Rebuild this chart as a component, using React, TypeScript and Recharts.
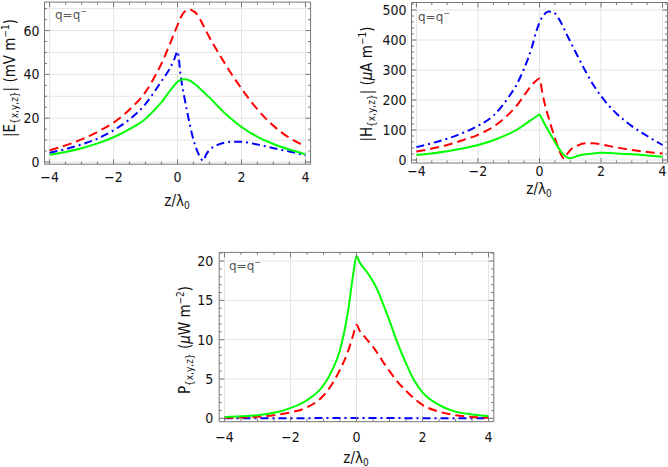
import { LineChart, Line, XAxis, YAxis, ReferenceLine } from "recharts";

// z / lambda0 sample positions shared by all three panels
const Z = [-4, -3.5, -3, -2.5, -2, -1.5, -1, -0.75, -0.5, -0.25, -0.1, 0, 0.1, 0.2, 0.3, 0.4, 0.5, 0.6, 0.7, 0.8, 0.9, 1, 1.25, 1.5, 1.75, 2, 2.5, 3, 3.5, 4];

// |E| (mV/m)
const E_RED = [5.3, 7.6, 10.3, 13.8, 18, 24, 32, 38, 45, 53.5, 59, 62.5, 66, 68.3, 69.3, 69.5, 68.8, 67.6, 65.3, 62.5, 59.6, 56.8, 50.5, 44.5, 38.8, 33.5, 24, 16.5, 11, 7.2];
const E_BLUE = [4.2, 5.9, 8, 10.7, 14.5, 19.5, 26.5, 31.5, 37, 42.5, 47, 50.5, 39, 30.5, 23, 16, 10, 5.6, 2.4, 0.6, 3.6, 5.5, 7.8, 8.9, 9.3, 9.2, 8, 6.3, 4.8, 3];
const E_GREEN = [3.3, 4.6, 6.3, 8.5, 11.3, 15, 19.7, 23.3, 27.3, 32.3, 35, 36.6, 37.5, 37.8, 37.6, 37, 36, 34.9, 33.5, 32.2, 30.7, 29.4, 25.6, 22, 18.8, 16, 11.5, 8.2, 5.7, 3.6];

// |H| (uA/m)
const H_RED = [28, 38, 50, 66, 84, 111, 153, 180, 215, 250, 265, 272, 220, 175, 140, 105, 73, 44, 18, 4, 20, 33, 49, 56, 56, 52, 42, 33, 27, 22];
const H_BLUE = [43, 56, 71, 90, 114, 148, 210, 250, 305, 375, 430, 458, 478, 490, 495, 494, 489, 475, 458, 437, 415, 395, 344, 295, 250, 213, 155, 113, 80, 50];
const H_GREEN = [17, 22, 29, 38, 50, 66, 87, 100, 117, 135, 145, 151, 133, 114, 96, 78, 60, 43, 28, 16, 8.5, 6, 14, 19, 22, 24, 22, 19, 15, 11];

// P (uW/m^2)
const P_RED = [0.05, 0.1, 0.2, 0.4, 0.75, 1.4, 2.9, 4.3, 6.2, 8.6, 10.6, 11.9, 11.1, 10.6, 10.1, 9.6, 9.1, 8.5, 7.9, 7.2, 6.6, 6, 4.6, 3.5, 2.5, 1.7, 0.85, 0.4, 0.18, 0.08];
const P_BLUE = [0.02, 0.02, 0.02, 0.02, 0.02, 0.02, 0.03, 0.03, 0.03, 0.03, 0.03, 0.03, 0.03, 0.03, 0.03, 0.03, 0.03, 0.03, 0.03, 0.03, 0.03, 0.03, 0.03, 0.02, 0.02, 0.02, 0.02, 0.02, 0.02, 0.02];
const P_GREEN = [0.15, 0.25, 0.4, 0.7, 1.3, 2.3, 4.2, 6, 8.7, 13.8, 18.3, 20.6, 19.8, 19.2, 18.7, 18.1, 17.4, 16.6, 15.7, 14.6, 13.5, 12.4, 9.5, 7, 4.8, 3.3, 1.7, 0.85, 0.5, 0.3];

const X_TICKS = [-4, -3.5, -3, -2.5, -2, -1.5, -1, -0.5, 0, 0.5, 1, 1.5, 2, 2.5, 3, 3.5, 4];
const X_MAJOR = [-4, -2, 0, 2, 4];

const E_TICKS = [0, 5, 10, 15, 20, 25, 30, 35, 40, 45, 50, 55, 60, 65, 70];
const E_MAJOR = [0, 20, 40, 60];
const E_GRID = [0, 10, 20, 30, 40, 50, 60, 70];

const H_TICKS = [0, 20, 40, 60, 80, 100, 120, 140, 160, 180, 200, 220, 240, 260, 280, 300, 320, 340, 360, 380, 400, 420, 440, 460, 480, 500, 520];
const H_MAJOR = [0, 100, 200, 300, 400, 500];
const H_GRID = [0, 100, 200, 300, 400, 500];

const P_TICKS = [0, 1, 2, 3, 4, 5, 6, 7, 8, 9, 10, 11, 12, 13, 14, 15, 16, 17, 18, 19, 20, 21];
const P_MAJOR = [0, 5, 10, 15, 20];
const P_GRID = [0, 5, 10, 15, 20];

const FONT = "'DejaVu Sans Condensed', 'Liberation Sans', sans-serif";
const FRAME = "#777";
const GRID = "#e4e4e4";

const rows = (red: number[], blue: number[], green: number[]) =>
  Z.map((z, i) => ({ z, red: red[i], blue: blue[i], green: green[i] }));

const fmt = (v: number) => (v < 0 ? "\u2212" + Math.abs(v) : String(v));

// ticks point inwards, labels only on bottom/left majors
const makeTick = (side: string, majors: number[], labelGap: number) => (props: any) => {
  const { x, y, payload } = props;
  const major = majors.includes(payload.value);
  const len = major ? 5 : 2.5;
  let line;
  let label = null;
  if (side === "bottom") {
    line = <line x1={x} x2={x} y1={y} y2={y - len} stroke={FRAME} />;
    if (major)
      label = (
        <text x={x} y={y + labelGap} textAnchor="middle" fontSize={14} fontFamily={FONT} fill="#111">
          {fmt(payload.value)}
        </text>
      );
  } else if (side === "top") {
    line = <line x1={x} x2={x} y1={y} y2={y + len} stroke={FRAME} />;
  } else if (side === "left") {
    line = <line x1={x} x2={x + len} y1={y} y2={y} stroke={FRAME} />;
    if (major)
      label = (
        <text x={x - labelGap} y={y + 5} textAnchor="end" fontSize={14} fontFamily={FONT} fill="#111">
          {fmt(payload.value)}
        </text>
      );
  } else {
    line = <line x1={x} x2={x - len} y1={y} y2={y} stroke={FRAME} />;
  }
  return (
    <g>
      {line}
      {label}
    </g>
  );
};

type PanelProps = {
  left: number;
  top: number;
  width: number;
  height: number;
  plot: { x0: number; x1: number; y0: number; y1: number }; // page coords of frame
  data: any[];
  yDomain: [number, number];
  yTicks: number[];
  yMajor: number[];
  yGrid: number[];
  xGap: number;
  yGap: number;
};

const Panel = (p: PanelProps) => {
  // each axis takes 1px, so margins are trimmed by that
  const margin = {
    left: p.plot.x0 - p.left - 1,
    right: p.left + p.width - p.plot.x1 - 1,
    top: p.plot.y0 - p.top - 1,
    bottom: p.top + p.height - p.plot.y1 - 1,
  };
  const common = {
    type: "number" as const,
    allowDataOverflow: true,
    interval: 0 as const,
    tickSize: 0,
    tickMargin: 0,
    axisLine: { stroke: FRAME },
    tickLine: false,
  };
  return (
    <div style={{ position: "absolute", left: p.left, top: p.top }}>
      <LineChart width={p.width} height={p.height} data={p.data} margin={margin}>
        <XAxis {...common} dataKey="z" domain={[-4.16, 4.16]} ticks={X_TICKS} height={1} tick={makeTick("bottom", X_MAJOR, p.xGap)} />
        <XAxis {...common} xAxisId="top" orientation="top" dataKey="z" domain={[-4.16, 4.16]} ticks={X_TICKS} height={1} tick={makeTick("top", X_MAJOR, 0)} />
        <YAxis {...common} domain={p.yDomain} ticks={p.yTicks} width={1} tick={makeTick("left", p.yMajor, p.yGap)} />
        <YAxis {...common} yAxisId="right" orientation="right" domain={p.yDomain} ticks={p.yTicks} width={1} tick={makeTick("right", p.yMajor, 0)} />
        {X_MAJOR.map((v) => (
          <ReferenceLine key={"x" + v} x={v} stroke={GRID} />
        ))}
        {p.yGrid.map((v) => (
          <ReferenceLine key={"y" + v} y={v} stroke={GRID} />
        ))}
        <Line type="monotone" dataKey="blue" stroke="#0000ff" strokeWidth={2} strokeDasharray="8 4 2 4" dot={false} isAnimationActive={false} />
        <Line type="monotone" dataKey="red" stroke="#ff0000" strokeWidth={2} strokeDasharray="9 5" dot={false} isAnimationActive={false} />
        <Line type="monotone" dataKey="green" stroke="#00ff00" strokeWidth={2} dot={false} isAnimationActive={false} />
      </LineChart>
    </div>
  );
};

const Labels = () => (
  <svg width={668} height={467} style={{ position: "absolute", left: 0, top: 0, pointerEvents: "none" }}>
    <g fontFamily={FONT} fill="#111">
      {/* y labels */}
      <text transform="translate(15,78) rotate(-90)" textAnchor="middle" fontSize={15}>
        |E
        <tspan fontSize={10} dy={3}>{"{x,y,z}"}</tspan>
        <tspan dy={-3}>| (mV m</tspan>
        <tspan fontSize={10} dy={-6}>{"\u22121"}</tspan>
        <tspan dy={6}>)</tspan>
      </text>
      <text transform="translate(372,84) rotate(-90)" textAnchor="middle" fontSize={15}>
        |H
        <tspan fontSize={10} dy={3}>{"{x,y,z}"}</tspan>
        <tspan dy={-3}>| (</tspan>
        <tspan fontStyle="italic">μ</tspan>
        <tspan>A m</tspan>
        <tspan fontSize={10} dy={-6}>{"\u22121"}</tspan>
        <tspan dy={6}>)</tspan>
      </text>
      <text transform="translate(190,340) rotate(-90)" textAnchor="middle" fontSize={15}>
        P
        <tspan fontSize={10} dy={3}>{"{x,y,z}"}</tspan>
        <tspan dy={-3}> (</tspan>
        <tspan fontStyle="italic">μ</tspan>
        <tspan>W m</tspan>
        <tspan fontSize={10} dy={-6}>{"\u22122"}</tspan>
        <tspan dy={6}>)</tspan>
      </text>
      {/* x labels */}
      <text x={177} y={206} textAnchor="middle" fontSize={15}>
        z/λ
        <tspan fontSize={10} dy={3}>0</tspan>
      </text>
      <text x={539} y={194} textAnchor="middle" fontSize={15}>
        z/λ
        <tspan fontSize={10} dy={3}>0</tspan>
      </text>
      <text x={356} y={463} textAnchor="middle" fontSize={15}>
        z/λ
        <tspan fontSize={10} dy={3}>0</tspan>
      </text>
    </g>
    <g fontFamily="'DejaVu Sans', sans-serif" fill="#555" fontSize={12}>
      <text x={55} y={19}>
        q=q<tspan fontSize={8} dy={-5}>{"\u2212"}</tspan>
      </text>
      <text x={418} y={21}>
        q=q<tspan fontSize={8} dy={-5}>{"\u2212"}</tspan>
      </text>
      <text x={229} y={270}>
        q=q<tspan fontSize={8} dy={-5}>{"\u2212"}</tspan>
      </text>
    </g>
  </svg>
);

export default function App() {
  return (
    <div style={{ position: "absolute", left: 0, top: 0, width: 668, height: 467, background: "#fff", overflow: "hidden" }}>
      <Panel
        left={0}
        top={0}
        width={334}
        height={215}
        plot={{ x0: 44.5, x1: 310.6, y0: 2.1, y1: 164.2 }}
        data={rows(E_RED, E_BLUE, E_GREEN)}
        yDomain={[-1, 73]}
        yTicks={E_TICKS}
        yMajor={E_MAJOR}
        yGrid={E_GRID}
        xGap={18}
        yGap={5}
      />
      <Panel
        left={334}
        top={0}
        width={334}
        height={215}
        plot={{ x0: 411.5, x1: 667.5, y0: 2.5, y1: 163 }}
        data={rows(H_RED, H_BLUE, H_GREEN)}
        yDomain={[-10, 525]}
        yTicks={H_TICKS}
        yMajor={H_MAJOR}
        yGrid={H_GRID}
        xGap={13}
        yGap={5}
      />
      <Panel
        left={160}
        top={230}
        width={340}
        height={237}
        plot={{ x0: 219.2, x1: 493.8, y0: 252.4, y1: 421.7 }}
        data={rows(P_RED, P_BLUE, P_GREEN)}
        yDomain={[-0.43, 21.1]}
        yTicks={P_TICKS}
        yMajor={P_MAJOR}
        yGrid={P_GRID}
        xGap={20}
        yGap={6}
      />
      <Labels />
    </div>
  );
}
